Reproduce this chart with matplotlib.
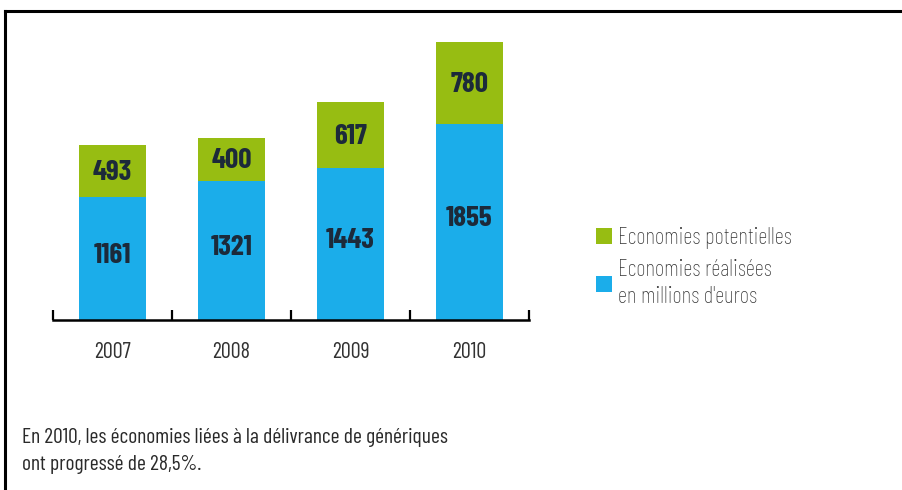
import matplotlib
matplotlib.use("Agg")
import matplotlib.pyplot as plt
from matplotlib import font_manager
from matplotlib.lines import Line2D

years = ["2007", "2008", "2009", "2010"]
realisees = [1161, 1321, 1443, 1855]
potentielles = [493, 400, 617, 780]
legend_labels = ["Economies potentielles", "Economies réalisées\nen millions d'euros"]
note_text = "En 2010, les économies liées à la délivrance de génériques\nont progressé de 28,5%."

installed = set(f.name for f in font_manager.fontManager.ttflist)


def pick(*cands):
    for c in cands:
        if c in installed:
            return c
    return "DejaVu Sans"


cond = pick("Barlow Condensed", "Roboto Condensed", "Archivo Narrow", "DejaVu Sans")

green = "#97bd12"
blue = "#1badea"
dark = "#1c2a3a"

W, H = 903, 490
fig = plt.figure(figsize=(W / 100, H / 100), dpi=100)

# axes placed in pixel terms: baseline y=320, x from 53 to 529
x0, x1 = 53, 529
ybase = 320
ymax = 3000
pxu = 0.1056
ax = fig.add_axes([x0 / W, 1 - ybase / H, (x1 - x0) / W, ymax * pxu / H])

xs = list(range(len(years)))
b1 = ax.bar(xs, realisees, width=0.57, color=blue, zorder=2)
b2 = ax.bar(xs, potentielles, width=0.57, bottom=realisees, color=green, zorder=2)

for i in xs:
    ax.text(i, realisees[i] / 2 + 30, str(realisees[i]), ha="center", va="center",
            fontsize=21, fontweight="bold", color=dark, family=cond)
    ax.text(i, realisees[i] + potentielles[i] / 2 - 15, str(potentielles[i]), ha="center", va="center",
            fontsize=21, fontweight="bold", color=dark, family=cond)

ax.set_xlim(-0.5, 3.5)
ax.set_ylim(0, ymax)
for s in ["top", "right", "left"]:
    ax.spines[s].set_visible(False)
ax.spines["bottom"].set_linewidth(1.8)
ax.set_yticks([])
ax.set_xticks([-0.5, 0.5, 1.5, 2.5, 3.5])
ax.set_xticklabels([])
ax.tick_params(axis="x", which="major", direction="in", length=7, width=1.6)
ax.set_xticks(xs, minor=True)
ax.set_xticklabels(years, minor=True, family=cond, fontsize=16, color="#333333")
ax.tick_params(axis="x", which="minor", length=0, pad=16)

leg = ax.legend([b2, b1], legend_labels, loc="upper left",
                bbox_to_anchor=(596 / W, 1 - 227 / H), bbox_transform=fig.transFigure,
                frameon=False, handlelength=0.7, handleheight=0.7, handletextpad=0.25,
                labelspacing=0.42, borderpad=0, borderaxespad=0,
                prop={"family": cond, "weight": "light", "size": 16.5})
for t in leg.get_texts():
    t.set_color("#333333")
    t.set_linespacing(1.3)

fig.text(22 / W, 1 - 428 / H, note_text, ha="left", va="top", family=cond,
         fontsize=15.5, color="#2a2a2a", linespacing=1.5)

# frame lines (top and left only)
fig.add_artist(Line2D([5 / W, 1], [1 - 11 / H, 1 - 11 / H], color="black", lw=2.2,
                      transform=fig.transFigure))
fig.add_artist(Line2D([5 / W, 5 / W], [0, 1 - 11 / H], color="black", lw=2.2,
                      transform=fig.transFigure))

fig.savefig("out.png", dpi=100)
